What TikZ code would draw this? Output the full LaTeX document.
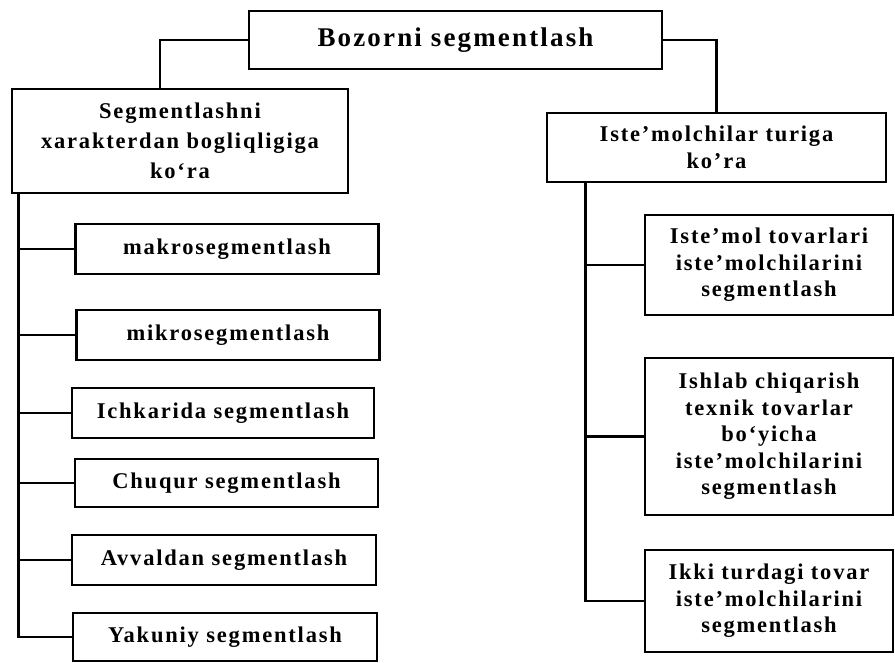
\documentclass[tikz,border=0pt]{standalone}
\usepackage{fontspec}
\setmainfont{Liberation Serif}[LetterSpace=8]
\usetikzlibrary{calc}
\begin{document}
\begin{tikzpicture}[x=1pt,y=-1pt,
  box/.style={draw,line width=2.8pt,rectangle,inner sep=0pt,align=center,font=\bfseries\fontsize{22.5}{26.5}\selectfont},
  conn/.style={line width=2.8pt}]
\useasboundingbox (0,0) rectangle (895,662);
\node[box,minimum width=413pt,minimum height=58pt,font=\bfseries\fontsize{27}{30}\selectfont] (top) at (455.5,40) {Bozorni segmentlash};
\node[box,minimum width=336pt,minimum height=104pt,font=\bfseries\fontsize{22.5}{30}\selectfont] (L) at (180,141) {Segmentlashni\\xarakterdan bogliqligiga\\ko‘ra};
\node[box,minimum width=339pt,minimum height=69pt] (R) at (716.5,147.5) {Iste’molchilar turiga\\ko’ra};
\node[box,minimum width=303pt,minimum height=50pt] (c1) at (227,249) {makrosegmentlash};
\node[box,minimum width=303pt,minimum height=50pt] (c2) at (228,335) {mikrosegmentlash};
\node[box,minimum width=302pt,minimum height=50pt] (c3) at (223,413) {Ichkarida segmentlash};
\node[box,minimum width=303pt,minimum height=48pt] (c4) at (226.5,483) {Chuqur segmentlash};
\node[box,minimum width=304pt,minimum height=50pt] (c5) at (224,560) {Avvaldan segmentlash};
\node[box,minimum width=304pt,minimum height=48pt] (c6) at (225,637) {Yakuniy segmentlash};
\node[box,minimum width=248pt,minimum height=100pt] (r1) at (769,265) {Iste’mol tovarlari\\iste’molchilarini\\segmentlash};
\node[box,minimum width=248pt,minimum height=157pt] (r2) at (769,436.5) {Ishlab chiqarish\\texnik tovarlar\\bo‘yicha\\iste’molchilarini\\segmentlash};
\node[box,minimum width=248pt,minimum height=102pt] (r3) at (769,601) {Ikki turdagi tovar\\iste’molchilarini\\segmentlash};
\draw[conn] (top.west) -| ($(L.north)+(-20,0)$);
\draw[conn] (top.east) -| (R.north);
\coordinate (lt) at ($(L.south west)+(8,0)$);
\draw[conn] (lt) |- (c6.west);
\foreach \n in {c1,c2,c3,c4,c5} \draw[conn] (\n.west) -- (\n.west -| lt);
\coordinate (rt) at ($(R.south west)+(40,0)$);
\draw[conn] (rt) |- (r3.west);
\foreach \n in {r1,r2} \draw[conn] (\n.west) -- (\n.west -| rt);
\end{tikzpicture}
\end{document}
